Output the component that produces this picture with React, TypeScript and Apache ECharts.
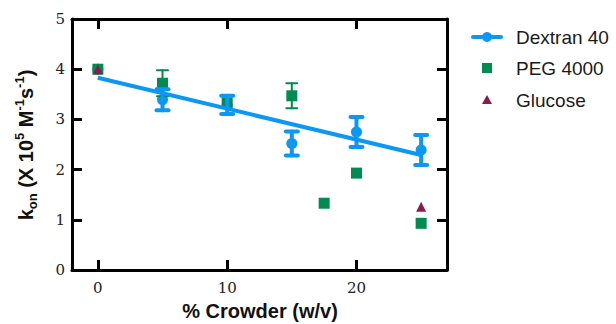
import React, { useEffect, useRef } from "react";
import * as echarts from "echarts";

const crowderX = [0, 5, 10, 15, 20, 25];
const dextranMean = [4.0, 3.39, 3.29, 2.52, 2.75, 2.39];
const dextranErr = [0, 0.21, 0.18, 0.24, 0.3, 0.3];

const pegX = [0, 5, 10, 15, 17.5, 20, 25];
const pegMean = [4.0, 3.72, 3.33, 3.47, 1.33, 1.93, 0.93];
const pegErr = [0, 0.26, 0, 0.25, 0, 0, 0];

const glucoseX = [0, 25];
const glucoseMean = [4.0, 1.26];

const fitX = [0, 25];
const fitY = [3.83, 2.29];

const xTicks = [0, 10, 20];
const yTicks = [0, 1, 2, 3, 4, 5];

const X_MIN = -2;
const X_MAX = 27;
const Y_MIN = 0;
const Y_MAX = 5;

const BLUE = "#0A97F5";
const GREEN = "#008C50";
const MAROON = "#8B1C4E";

function errData(xs: number[], m: number[], e: number[]) {
  const out: number[][] = [];
  xs.forEach((x, i) => {
    if (e[i] > 0) out.push([x, m[i] - e[i], m[i] + e[i]]);
  });
  return out;
}

function seg(x1: number, y1: number, x2: number, y2: number, color: string, lw: number, cap: string) {
  return {
    type: "line",
    shape: { x1, y1, x2, y2 },
    style: { stroke: color, lineWidth: lw, lineCap: cap, fill: "none" },
  };
}

function errRender(color: string, lw: number, capW: number) {
  return (params: any, api: any) => {
    const x = api.value(0);
    const lo = api.coord([x, api.value(1)]);
    const hi = api.coord([x, api.value(2)]);
    return {
      type: "group",
      children: [
        seg(lo[0], lo[1], hi[0], hi[1], color, lw, "round"),
        seg(lo[0] - capW / 2, lo[1], lo[0] + capW / 2, lo[1], color, lw, "round"),
        seg(hi[0] - capW / 2, hi[1], hi[0] + capW / 2, hi[1], color, lw, "round"),
      ],
    };
  };
}

export default function App() {
  const ref = useRef<HTMLDivElement>(null);
  useEffect(() => {
    if (!ref.current) return;
    const chart = echarts.init(ref.current, null, { renderer: "svg" });
    const tick = { show: true, inside: true, length: 10, lineStyle: { color: "#000", width: 3 } };
    const line = { show: true, onZero: false, lineStyle: { color: "#000", width: 3 } };
    const option: any = {
      animation: false,
      grid: {
        left: 72,
        right: 169,
        top: 19,
        bottom: 54,
        show: false,
        containLabel: false,
      },
      xAxis: [
        {
          type: "value",
          position: "bottom",
          min: X_MIN,
          max: X_MAX,
          axisLine: line,
          splitLine: { show: false },
          axisTick: { ...tick, customValues: xTicks },
          axisLabel: {
            customValues: xTicks,
            margin: 10,
            fontFamily: "DejaVu Serif",
            fontSize: 15,
            color: "#222",
          },
        },
        {
          type: "value",
          position: "top",
          min: X_MIN,
          max: X_MAX,
          axisLine: line,
          splitLine: { show: false },
          axisTick: { ...tick, customValues: xTicks },
          axisLabel: { show: false },
        },
      ],
      yAxis: [
        {
          type: "value",
          position: "left",
          min: Y_MIN,
          max: Y_MAX,
          interval: 1,
          axisLine: line,
          splitLine: { show: false },
          axisTick: { ...tick, customValues: yTicks },
          axisLabel: {
            customValues: yTicks,
            margin: 7,
            fontFamily: "DejaVu Serif",
            fontSize: 15,
            color: "#222",
          },
        },
        {
          type: "value",
          position: "right",
          min: Y_MIN,
          max: Y_MAX,
          interval: 1,
          axisLine: line,
          splitLine: { show: false },
          axisTick: { ...tick, customValues: yTicks },
          axisLabel: { show: false },
        },
      ],
      series: [
        {
          name: "Dextran 40 points",
          type: "scatter",
          data: crowderX.map((x, i) => [x, dextranMean[i]]),
          symbol: "circle",
          symbolSize: 11,
          itemStyle: { color: BLUE, opacity: 1 },
          z: 2,
        },
        {
          name: "PEG 4000 err",
          type: "custom",
          data: errData(pegX, pegMean, pegErr),
          renderItem: errRender(GREEN, 2, 11),
          encode: { x: 0, y: [1, 2] },
          clip: false,
          z: 3,
        },
        {
          name: "PEG 4000",
          type: "scatter",
          data: pegX.map((x, i) => [x, pegMean[i]]),
          symbol: "rect",
          symbolSize: 11,
          itemStyle: { color: GREEN, opacity: 1 },
          z: 4,
        },
        {
          name: "Dextran 40 err",
          type: "custom",
          data: errData(crowderX, dextranMean, dextranErr),
          renderItem: errRender(BLUE, 4, 12),
          encode: { x: 0, y: [1, 2] },
          clip: false,
          z: 5,
        },
        {
          name: "Glucose",
          type: "scatter",
          data: glucoseX.map((x, i) => [x, glucoseMean[i]]),
          symbol: "triangle",
          symbolSize: [10, 10],
          itemStyle: { color: MAROON, opacity: 1 },
          z: 6,
        },
        {
          name: "Dextran 40",
          type: "line",
          data: fitX.map((x, i) => [x, fitY[i]]),
          showSymbol: false,
          lineStyle: { color: BLUE, width: 4 },
          z: 7,
        },
      ],
      graphic: [
        {
          type: "text",
          x: 26,
          y: 145,
          rotation: Math.PI / 2,
          style: {
            text: "{b|k}{sub|on}{b| (X 10}{sup|5}{b| M}{sup|-1}{b|s}{sup|-1}{b|)}",
            align: "center",
            verticalAlign: "middle",
            fill: "#111",
            rich: {
              b: { fontFamily: "Liberation Sans", fontWeight: "bold", fontSize: 20, lineHeight: 26, fill: "#111" },
              sub: { fontFamily: "Liberation Sans", fontWeight: "bold", fontSize: 13, lineHeight: 13, verticalAlign: "bottom", fill: "#111" },
              sup: { fontFamily: "Liberation Sans", fontWeight: "bold", fontSize: 13, lineHeight: 13, verticalAlign: "top", fill: "#111" },
            },
          },
        },
        {
          type: "text",
          x: 260,
          y: 311,
          style: {
            text: "% Crowder (w/v)",
            align: "center",
            verticalAlign: "middle",
            fontFamily: "Liberation Sans",
            fontWeight: "bold",
            fontSize: 20,
            fill: "#111",
          },
        },
        { type: "line", shape: { x1: 473, y1: 37, x2: 501, y2: 37 }, style: { stroke: BLUE, lineWidth: 4, lineCap: "round" } },
        { type: "circle", shape: { cx: 487, cy: 37, r: 5 }, style: { fill: BLUE } },
        { type: "text", x: 516, y: 37, style: { text: "Dextran 40", verticalAlign: "middle", fontFamily: "Liberation Sans", fontSize: 19, fill: "#1a1a1a" } },
        { type: "rect", shape: { x: 482, y: 63, width: 10, height: 10 }, style: { fill: GREEN } },
        { type: "text", x: 516, y: 68, style: { text: "PEG 4000", verticalAlign: "middle", fontFamily: "Liberation Sans", fontSize: 19, fill: "#1a1a1a" } },
        { type: "polygon", shape: { points: [[487, 95], [492, 104], [482, 104]] }, style: { fill: MAROON } },
        { type: "text", x: 516, y: 100, style: { text: "Glucose", verticalAlign: "middle", fontFamily: "Liberation Sans", fontSize: 19, fill: "#1a1a1a" } },
      ],
    };
    chart.setOption(option);
    return () => chart.dispose();
  }, []);
  return (
    <div
      ref={ref}
      style={{ position: "absolute", left: 0, top: 0, width: 616, height: 324, background: "#fff" }}
    />
  );
}
